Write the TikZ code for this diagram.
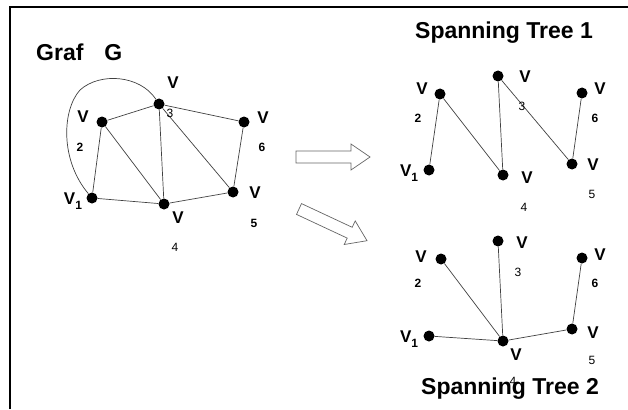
\documentclass[tikz,border=0pt]{standalone}
\usepackage{fontspec}
\setmainfont{Liberation Sans}
\begin{document}
\begin{tikzpicture}[x=1pt,y=-1pt,
  dot/.style={circle,fill=black,inner sep=0pt,minimum size=11pt},
  edge/.style={draw=black!75,line width=0.7pt},
  vlab/.style={inner sep=0pt,font=\fontsize{17}{17}\selectfont\bfseries},
  nlab/.style={inner sep=0pt,font=\fontsize{12}{12}\selectfont\bfseries},
  nlabr/.style={inner sep=0pt,font=\fontsize{12}{12}\selectfont},
  title/.style={inner sep=0pt,font=\fontsize{23}{23}\selectfont\bfseries},
  bigarrow/.style={draw=black!60,line width=0.7pt,fill=white}]
\useasboundingbox (0,0) rectangle (628,409);
% frame
\draw[line width=2pt] (9.5,409) -- (9.5,7.5) -- (628,7.5);

% ---------- Graf G ----------
\node[title,anchor=west] (tG) at (36,52) {Graf\hspace{21pt}G};
\node[dot] (g1) at (92,198) {};
\node[dot] (g2) at (102,122) {};
\node[dot] (g3) at (159,104) {};
\node[dot] (g4) at (164,204) {};
\node[dot] (g5) at (233,192) {};
\node[dot] (g6) at (244,122) {};
\draw[edge] (g1) -- (g2);
\draw[edge] (g2) -- (g3);
\draw[edge] (g2) -- (g4);
\draw[edge] (g3) -- (g4);
\draw[edge] (g3) -- (g5);
\draw[edge] (g3) -- (g6);
\draw[edge] (g6) -- (g5);
\draw[edge] (g5) -- (g4);
\draw[edge] (g1) -- (g4);
\draw[edge] (g1) .. controls (60,160) and (62,110) .. (80,90) .. controls (100,72) and (140,75) .. (g3);
\node[vlab] (gl1) at (73,201) {V\raisebox{-4.5pt}{\fontsize{12}{12}\selectfont 1}};
\node[vlab] (gl2) at (83,117) {V};
\node[nlab] (gn2) at (80,147) {2};
\node[vlab] (gl3) at (173,83) {V};
\node[nlabr] (gn3) at (170,113) {3};
\node[vlab] (gl6) at (263,118) {V};
\node[nlab] (gn6) at (262,147) {6};
\node[vlab] (gl4) at (178,218) {V};
\node[nlabr] (gn4) at (175,247) {4};
\node[vlab] (gl5) at (255,193) {V};
\node[nlab] (gn5) at (254,223) {5};

% ---------- arrows ----------
\draw[bigarrow] (296,151) -- (351,151) -- (351,144) -- (370,157) -- (351,170) -- (351,163) -- (296,163) -- cycle;
\draw[bigarrow] (296.5,214.4) -- (301.5,203.6) -- (352.2,227.3) -- (355.2,220.9) -- (367,240.7) -- (344.2,244.5) -- (347.2,238.1) -- cycle;

% ---------- Spanning Tree 1 ----------
\node[title] (t1) at (504,33) {Spanning Tree 1};
\node[dot] (a1) at (429,170) {};
\node[dot] (a2) at (440,94) {};
\node[dot] (a3) at (498,76) {};
\node[dot] (a4) at (503,175) {};
\node[dot] (a5) at (572,164) {};
\node[dot] (a6) at (582,93) {};
\draw[edge] (a1) -- (a2);
\draw[edge] (a2) -- (a4);
\draw[edge] (a3) -- (a4);
\draw[edge] (a3) -- (a5);
\draw[edge] (a5) -- (a6);
\node[vlab] (al1) at (409,173) {V\raisebox{-4.5pt}{\fontsize{12}{12}\selectfont 1}};
\node[vlab] (al2) at (422,89) {V};
\node[nlab] (an2) at (418,118) {2};
\node[vlab] (al3) at (525,77) {V};
\node[nlabr] (an3) at (522,106) {3};
\node[vlab] (al6) at (600,89) {V};
\node[nlab] (an6) at (595,118) {6};
\node[vlab] (al4) at (527,178) {V};
\node[nlabr] (an4) at (524,207) {4};
\node[vlab] (al5) at (593,165) {V};
\node[nlabr] (an5) at (592,194) {5};

% ---------- Spanning Tree 2 ----------
\node[dot] (b1) at (429,336) {};
\node[dot] (b2) at (441,259) {};
\node[dot] (b3) at (498,241) {};
\node[dot] (b4) at (503,341) {};
\node[dot] (b5) at (572,329) {};
\node[dot] (b6) at (582,258) {};
\draw[edge] (b1) -- (b4);
\draw[edge] (b2) -- (b4);
\draw[edge] (b3) -- (b4);
\draw[edge] (b5) -- (b4);
\draw[edge] (b6) -- (b5);
\node[vlab] (bl1) at (409,339) {V\raisebox{-4.5pt}{\fontsize{12}{12}\selectfont 1}};
\node[vlab] (bl2) at (421,257) {V};
\node[nlab] (bn2) at (418,283) {2};
\node[vlab] (bl3) at (522,243) {V};
\node[nlabr] (bn3) at (518,272) {3};
\node[vlab] (bl6) at (600,255) {V};
\node[nlab] (bn6) at (595,283) {6};
\node[vlab] (bl4) at (516,355) {V};
\node[nlabr] (bn4) at (513,381) {4};
\node[vlab] (bl5) at (593,333) {V};
\node[nlabr] (bn5) at (592,360) {5};
\node[title] (t2) at (510,389) {Spanning Tree 2};
\end{tikzpicture}
\end{document}
